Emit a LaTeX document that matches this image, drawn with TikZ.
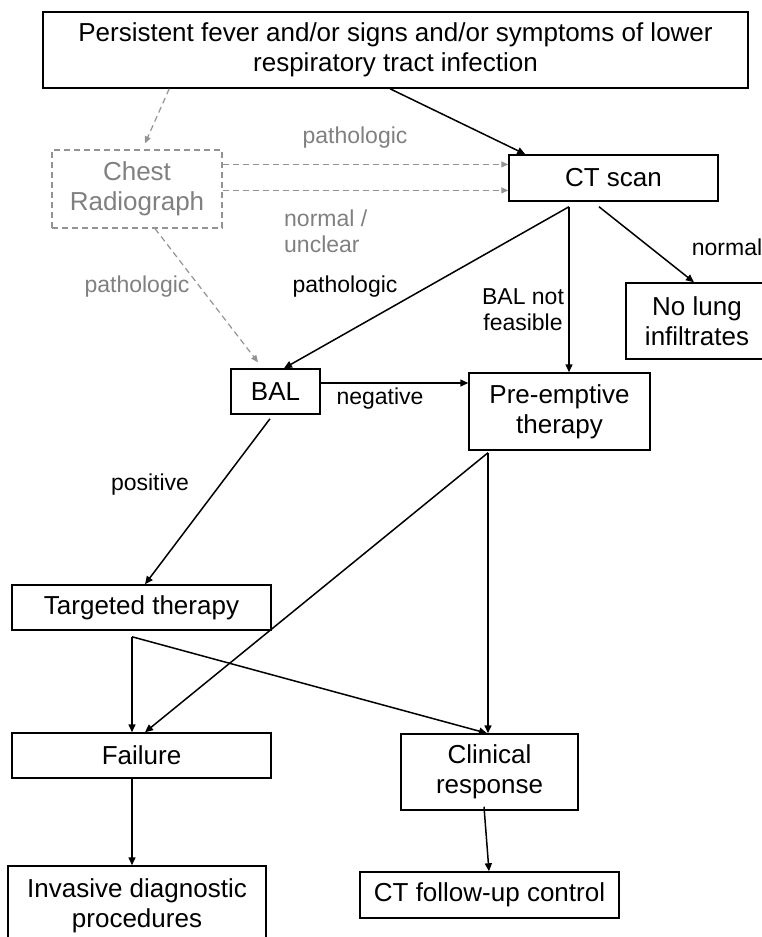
\documentclass[tikz,border=0pt]{standalone}
\usepackage{fontspec}
\setmainfont{Liberation Sans}
\usetikzlibrary{arrows.meta,calc}
\begin{document}
\begin{tikzpicture}[x=1pt,y=-1pt,
  box/.style={draw=black, line width=1.5pt, inner sep=0pt, align=center, font=\fontsize{26}{30}\selectfont, text=black},
  dbox/.style={draw=gray!85, dash pattern=on 6pt off 4pt, line width=1.2pt, inner sep=0pt, align=center, font=\fontsize{26}{30}\selectfont, text=gray},
  arr/.style={line width=1.5pt, -{Triangle[length=8pt,width=7pt]}},
  darr/.style={draw=gray!85, line width=1.2pt, dash pattern=on 6pt off 4pt, -{Triangle[length=7pt,width=6pt]}},
  lab/.style={font=\fontsize{23}{26}\selectfont, inner sep=0pt, align=center},
  glab/.style={lab, text=gray}]
\useasboundingbox (0,0) rectangle (761,937);

% nodes
\node[box, minimum width=705pt, minimum height=76pt] (top) at (395.5,50) {Persistent fever and/or signs and/or symptoms of lower\\respiratory tract infection};
\node[dbox, minimum width=170pt, minimum height=78pt] (chest) at (137,189) {Chest\\Radiograph};
\node[box, minimum width=209pt, minimum height=46pt] (ct) at (613.5,178) {CT scan};
\node[box, minimum width=142pt, minimum height=76pt] (nolung) at (697,321) {No lung\\infiltrates};
\node[box, minimum width=89pt, minimum height=45pt] (bal) at (275.5,391.5) {BAL};
\node[box, minimum width=181pt, minimum height=77pt] (pre) at (559.5,411.5) {Pre-emptive\\therapy};
\node[box, minimum width=259pt, minimum height=45pt] (targ) at (141.5,607.5) {Targeted therapy};
\node[box, minimum width=259pt, minimum height=45pt] (fail) at (141.5,755.5) {Failure};
\node[box, minimum width=177pt, minimum height=76pt] (clin) at (489.5,772) {Clinical\\response};
\node[box, minimum width=258pt, minimum height=80pt] (inv) at (137,906) {Invasive diagnostic\\procedures};
\node[box, minimum width=259pt, minimum height=46pt] (ctf) at (489.5,895) {CT follow-up control};

% labels
\node[glab] (l1) at (355,138) {pathologic};
\node[glab, anchor=west, align=left] (l2) at (284,231) {normal /\\unclear};
\node[glab] (l3) at (137,287) {pathologic};
\node[lab] (l4) at (345,287) {pathologic};
\node[lab] (l5) at (523,310) {BAL not\\feasible};
\node[lab] (l6) at (727,247) {normal};
\node[lab] (l7) at (380,399) {negative};
\node[lab] (l8) at (150,485) {positive};

% coordinates
\coordinate (c1) at ([yshift=-15pt]chest.north east);
\coordinate (c2) at ([yshift=-41pt]chest.north east);
\coordinate (ctb1) at ([xshift=-44.5pt,yshift=-5pt]ct.south);
\coordinate (ctb2) at ([xshift=-14.5pt,yshift=-5pt]ct.south);
\coordinate (b1) at ([yshift=8.5pt]bal.east);
\coordinate (pb) at ([xshift=-71.5pt,yshift=-2pt]pre.south);
\coordinate (tb) at ([xshift=-9.5pt,yshift=-6pt]targ.south);
\coordinate (fb) at ([xshift=-9.5pt]fail.south);

% dashed connectors
\draw[darr] ([xshift=127pt]top.south west) -- ([xshift=8pt,yshift=6pt]chest.north);
\draw[darr] (c1) -- (c1 -| ct.west);
\draw[darr] (c2) -- (c2 -| ct.west);
\draw[darr] ([xshift=18pt]chest.south) -- ([xshift=-17.5pt,yshift=6pt]bal.north);

% solid connectors
\draw[arr] ([xshift=-5.5pt]top.south) -- ([xshift=17pt]ct.north west);
\draw[arr] (ctb1) -- ([xshift=8.5pt]bal.north);
\draw[arr] (ctb1) -- (ctb1 |- pre.north);
\draw[arr] (ctb2) -- ([xshift=-3pt]nolung.north);
\draw[arr] (b1) -- (b1 -| pre.west);
\draw[arr] ([xshift=-5.5pt,yshift=-4pt]bal.south) -- ([xshift=3.5pt]targ.north);
\draw[arr] (pb) -- ([xshift=3.5pt]fail.north);
\draw[arr] (pb) -- (pb |- clin.north);
\draw[arr] (tb) -- (tb |- fail.north);
\draw[arr] (tb) -- ([xshift=-2.5pt]clin.north);
\draw[arr] (fb) -- (fb |- inv.north);
\draw[arr] ([xshift=-5.5pt,yshift=4pt]clin.south) -- ([xshift=-0.5pt]ctf.north);
\end{tikzpicture}
\end{document}
